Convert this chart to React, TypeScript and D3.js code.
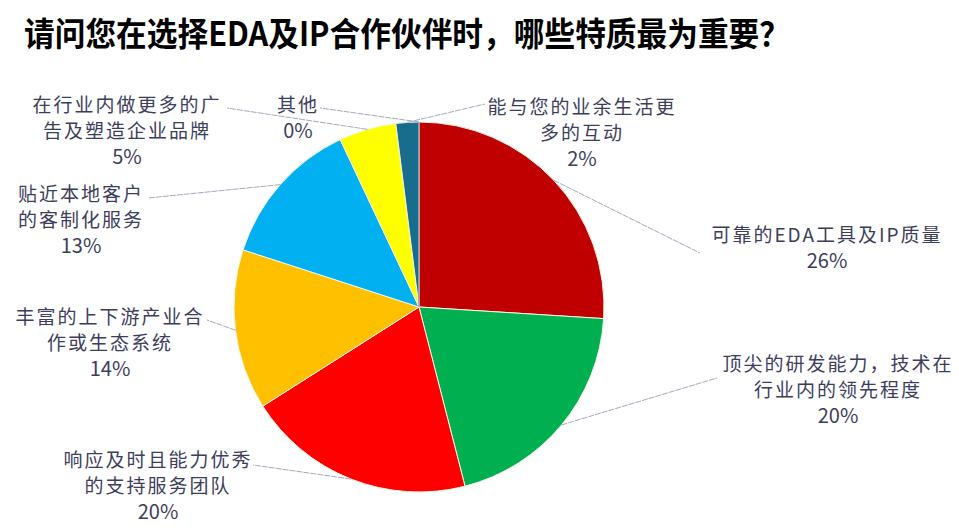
import React from 'react';
import * as d3 from 'd3';

// survey answers, clockwise from 12 o'clock
const categories = [
  ['可靠的EDA工具及IP质量'],
  ['顶尖的研发能力，技术在', '行业内的领先程度'],
  ['响应及时且能力优秀', '的支持服务团队'],
  ['丰富的上下游产业合', '作或生态系统'],
  ['贴近本地客户', '的客制化服务'],
  ['在行业内做更多的广', '告及塑造企业品牌'],
  ['能与您的业余生活更', '多的互动'],
  ['其他'],
];
const values = [26, 20, 20, 14, 13, 5, 2, 0];
const colors = ['#C00000', '#00B050', '#FF0000', '#FFC000', '#00B0F0', '#FFFF00', '#186C8C', '#A6A6A6'];

// label layout: text centre x, first line y, leader end point
const labelPos = [
  { x: 827, y: 233, lx: 700, ly: 253 },
  { x: 838, y: 362, lx: 717, ly: 378 },
  { x: 158, y: 458, lx: 253, ly: 465 },
  { x: 110, y: 315, lx: 207, ly: 320 },
  { x: 81, y: 192, lx: 148, ly: 198 },
  { x: 127, y: 103, lx: 227, ly: 108 },
  { x: 582, y: 105, lx: 485, ly: 104 },
  { x: 298, y: 103, lx: 320, ly: 108 },
];

const W = 959;
const H = 528;
const cx = 419;
const cy = 307;
const radius = 185;
const lineH = 26;
const textColor = '#3d3d5c';
const font = '"Noto Sans CJK SC", "Noto Sans", sans-serif';

export default function App() {
  const pie = d3.pie<number>().sort(null).value((d) => d);
  const arcs = pie(values);
  const arc = d3.arc<d3.PieArcDatum<number>>().innerRadius(0).outerRadius(radius);

  // point on the rim at the middle of each slice
  const rim = (a: d3.PieArcDatum<number>) => {
    const m = (a.startAngle + a.endAngle) / 2;
    return [cx + Math.sin(m) * radius, cy - Math.cos(m) * radius];
  };

  return (
    <svg width={W} height={H} style={{ position: 'absolute', left: 0, top: 0, background: '#fff' }}>
      <text
        x={24}
        y={46}
        fontFamily={font}
        fontWeight="bold"
        fontSize={33}
        fill="#000"
        textLength={766}
        lengthAdjust="spacingAndGlyphs"
      >
        请问您在选择EDA及IP合作伙伴时，哪些特质最为重要？
      </text>

      <g transform={`translate(${cx},${cy})`}>
        {arcs.map((a, i) => (
          <path
            key={i}
            d={arc(a) || ''}
            fill={colors[i]}
            stroke={values[i] === 0 ? '#9a9a9a' : '#f4f4e8'}
            strokeWidth={values[i] === 0 ? 1.5 : 1}
          />
        ))}
      </g>

      {arcs.map((a, i) => {
        const [px, py] = rim(a);
        const p = labelPos[i];
        return (
          <line
            key={'l' + i}
            x1={px}
            y1={py}
            x2={p.lx}
            y2={p.ly}
            stroke="#a3aabb"
            strokeWidth={1}
            strokeDasharray="6,1"
          />
        );
      })}

      {categories.map((lines, i) => {
        const p = labelPos[i];
        const rows = [...lines, `${values[i]}%`];
        return (
          <g key={'t' + i} fontFamily={font} fontSize={19} fill={textColor} textAnchor="middle">
            {rows.map((r, j) => (
              <text
                key={j}
                x={p.x}
                y={p.y + j * lineH}
                dominantBaseline="central"
                letterSpacing={j < rows.length - 1 ? 2 : 0}
                fontSize={j < rows.length - 1 ? 19 : 20}
              >
                {r}
              </text>
            ))}
          </g>
        );
      })}
    </svg>
  );
}
